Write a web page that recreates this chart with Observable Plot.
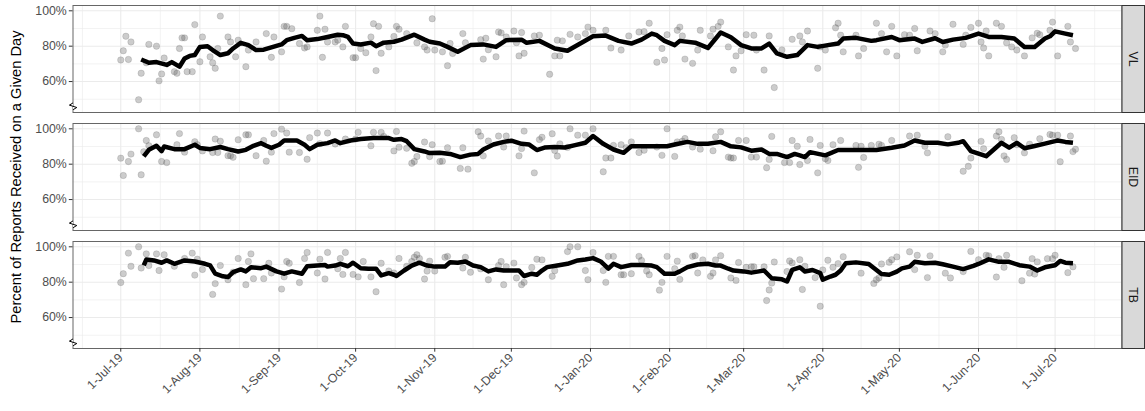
<!DOCTYPE html>
<html><head><meta charset="utf-8">
<script src="https://cdn.jsdelivr.net/npm/d3@7"></script>
<script src="https://cdn.jsdelivr.net/npm/@observablehq/plot@0.6"></script>
<style>body{margin:0;background:#fff}</style>
</head><body><div id="chart"></div>
<script>
const panels = ["VL", "EID", "TB"];
const startDate = "2019-07-01";
const xTickLabels = ["1-Jul-19","1-Aug-19","1-Sep-19","1-Oct-19","1-Nov-19","1-Dec-19","1-Jan-20","1-Feb-20","1-Mar-20","1-Apr-20","1-May-20","1-Jun-20","1-Jul-20"];
const yTicks = [60, 80, 100];
const yMinor = [50, 70, 90];
const yLabel = "Percent of Reports Received on a Given Day";

// rolling line: [day offset from 1-Jul-19, percent]
const vlLine = [[8,72.5],[11,70.6],[14,71],[18,69.4],[20,71],[23,68.4],[25,73],[27,74.5],[29,75],[31,79.6],[34,80],[36,77.8],[39,75],[42,76],[44,78.7],[47,81.9],[50,80.6],[53,77.8],[56,78],[59,79.3],[63,81],[65,83.4],[68,84.7],[71,85.8],[73,83.4],[77,84],[81,85.2],[85,86.5],[87,86.2],[89,85.2],[91,81.5],[94,81],[98,82],[100,80],[103,82],[107,82.5],[110,83.7],[115,86.5],[119,83.7],[121,82.5],[125,81.5],[128,79.6],[132,76.8],[137,80.6],[142,81],[147,79.6],[151,83.4],[157,83.7],[159,81.9],[164,83],[170,78.7],[175,77.4],[180,81.5],[185,85.6],[190,86],[195,83],[200,81.5],[204,83.7],[208,87.1],[210,86.2],[213,83],[217,80.6],[219,83],[225,82],[230,79],[235,87.7],[239,85],[243,80.6],[247,78.7],[251,78.7],[254,81.5],[257,75.9],[261,74],[265,75],[269,80.6],[273,79.6],[277,80.6],[281,81.5],[283,84.3],[288,84.7],[294,83],[296,83.4],[302,85.2],[305,83.4],[311,84.3],[314,82.4],[319,84.5],[322,82.4],[326,83.7],[331,84.7],[336,87.1],[340,85.2],[345,85.2],[350,84.3],[354,79.6],[358,79.6],[362,84.3],[364,85.6],[366,88.4],[370,87.1],[373,86.2]];
const eidLine = [[9,84.4],[11,88.1],[14,90.4],[16,87.4],[17,90],[21,88.5],[25,88.5],[29,91],[31,89.2],[35,88.5],[39,89.7],[42,88.5],[46,87.2],[49,88.1],[52,90.4],[55,91.9],[57,90.4],[59,89.2],[62,91],[64,93.4],[69,93.4],[72,91],[74,88.5],[77,91],[81,91.9],[84,93.4],[86,91.9],[90,93.4],[94,94.2],[99,94.8],[105,94.8],[107,93.8],[110,94.2],[112,93],[115,88.5],[119,87.2],[121,86.3],[125,86.4],[129,85.8],[133,84],[137,85.4],[140,85.8],[142,88.3],[146,91.1],[150,92.6],[153,93.3],[157,91.5],[160,91.1],[163,88],[166,89.4],[170,89.7],[174,89.4],[178,90.8],[182,92.1],[185,95.9],[189,91.5],[193,88.3],[197,86.4],[200,90.1],[205,90.1],[210,90.1],[214,90.1],[217,91.1],[222,92.6],[226,91.5],[230,91.5],[235,92.6],[239,90.1],[243,89.5],[247,87.6],[251,88.3],[254,85.8],[257,85.8],[261,84],[264,85.8],[266,85],[268,84],[270,86.8],[276,85],[281,88],[286,88],[291,88],[296,88],[302,89.3],[307,90.6],[311,93.4],[315,92.1],[320,92.1],[324,91.2],[328,92.1],[330,93],[333,87.4],[336,85.9],[339,84.5],[342,88.3],[345,92.1],[348,89.3],[351,92.1],[354,89],[358,90.3],[362,91.6],[366,93],[367,93.4],[370,92.6],[373,92.1]];
const tbLine = [[9,89.5],[10,92.8],[13,92.3],[16,91],[18,92.3],[21,90.4],[25,92.3],[29,91.7],[33,90.4],[35,89.5],[37,84.8],[40,83.3],[42,82.9],[44,85.7],[47,87.2],[49,86.1],[51,88.5],[55,87.9],[57,88.8],[61,86.1],[64,84.8],[67,86.1],[71,84.8],[73,89],[77,89.4],[80,89.7],[81,88.8],[84,89.4],[86,90.4],[89,89],[91,91],[94,87.9],[97,87.6],[100,87.6],[102,83.8],[105,85.1],[107,84.2],[108,83.5],[111,86.6],[114,89.4],[117,91],[120,89.4],[123,88.8],[127,88.8],[129,91.3],[132,91],[135,91.7],[138,89.4],[141,88.5],[144,86.1],[147,87.2],[150,86.6],[154,86.6],[156,86.6],[158,83.5],[161,84.8],[163,84.2],[165,86.6],[167,88.5],[171,89.4],[175,90.4],[179,92.3],[182,92.8],[185,93.6],[188,91.7],[191,87.6],[193,90.4],[196,88.5],[200,89.7],[204,89.7],[208,89.4],[210,88.5],[213,84.8],[217,84.8],[219,86.1],[222,88.5],[226,90],[230,90.4],[233,89.4],[235,89.4],[238,87.6],[240,86.6],[244,86.1],[247,85.4],[250,86.1],[252,86.6],[255,82.2],[259,81.6],[261,80.4],[263,86.9],[266,88.4],[268,86],[271,86.9],[274,85.1],[275,81.4],[278,83.2],[280,84.2],[282,86.6],[284,90.7],[288,91.2],[293,90.3],[296,86.9],[298,84.6],[301,84.2],[304,86],[306,87.8],[309,88.8],[311,91.5],[315,90.7],[319,91],[322,90.1],[326,88.8],[330,87.4],[334,89.2],[336,90.3],[340,92.9],[344,91.5],[348,91.5],[352,89.6],[356,88.8],[359,86.6],[362,88.4],[366,89.6],[368,92],[370,91],[373,90.7]];

// daily points: [day offset from 1-Jul-19, percent]
const vlPoints = [[0,72.2],[1,77.4],[2,85.6],[3,72.5],[4,82.4],[7,49.7],[8,64.7],[10,70.6],[11,81],[14,80],[15,60.4],[16,64.3],[17,73.3],[21,65.6],[22,64.7],[23,78.7],[24,84.7],[25,84.7],[26,65.6],[28,65.6],[29,92.2],[31,71.2],[32,85.2],[35,74],[36,70.6],[37,67.5],[38,78.7],[39,97],[42,85.2],[43,82.4],[45,74],[46,83.4],[49,68.4],[50,77.8],[53,82.4],[57,87.1],[59,73.7],[60,85.2],[63,76.8],[64,91.2],[65,91.2],[67,89.9],[70,81.5],[72,79],[73,79.6],[77,89],[78,97],[79,73.7],[80,89.6],[81,82.4],[84,82.4],[85,83.4],[87,79.6],[88,91.2],[91,73.5],[92,73.5],[94,78.7],[96,76.3],[98,85.2],[99,92.7],[100,66.2],[101,91.2],[102,76],[105,79.6],[107,85.5],[108,91.2],[109,89.6],[112,87.1],[116,81.9],[119,79.6],[120,77.8],[122,95.5],[123,77.8],[126,76.8],[128,69],[129,81.5],[130,75.9],[134,87.1],[135,81.9],[141,83.7],[142,72.7],[143,84.5],[144,78],[147,74],[148,88],[149,87.5],[151,85.2],[154,88.6],[155,82],[156,74.5],[157,87.7],[158,76],[162,85.8],[164,86.2],[168,64.1],[170,74.5],[171,83.4],[172,74.5],[173,83],[176,86.7],[179,85.2],[182,87.1],[183,90.8],[185,89],[190,89],[192,79],[196,77.8],[199,85.8],[203,88],[205,88.2],[207,93],[210,70.9],[212,78.7],[213,72.2],[214,86.5],[218,89],[219,90.8],[220,85.8],[221,72.7],[224,70.3],[226,77.8],[227,89],[231,85.8],[232,89.6],[234,91.2],[235,93.6],[238,79.6],[240,66.5],[241,74.5],[243,77.4],[245,86.5],[248,86.2],[249,77.8],[252,66.5],[254,85.8],[256,56.6],[259,77.9],[263,83.9],[266,85.8],[267,82.4],[269,88.6],[273,67.5],[274,79.6],[276,77.8],[280,90.4],[281,93],[282,86.2],[283,76.8],[288,86.2],[289,74.5],[291,78.7],[296,93],[298,87.1],[300,76.8],[302,91.2],[304,74.5],[307,86.5],[309,86.2],[311,90],[312,77.4],[317,88.6],[319,87.1],[322,76.8],[323,80.6],[326,92.4],[330,81],[331,86.2],[333,90.6],[336,93],[337,82.4],[338,79],[339,88.6],[340,74.5],[343,93],[345,91.2],[347,81.9],[349,79.6],[351,77.8],[354,74.5],[357,84.7],[359,87.3],[360,86.5],[364,89],[365,93.6],[367,74.5],[371,91.2],[372,82.4],[374,78.7]];
const eidPoints = [[0,83.4],[1,73.6],[3,81.5],[4,85.7],[7,100],[8,74],[9,87],[10,93.4],[11,90.4],[14,96.6],[16,81.5],[18,80.9],[22,91],[23,97.3],[25,86.8],[29,92.7],[30,91],[32,87.5],[36,86.6],[37,94.2],[38,86.6],[39,93],[42,84.8],[43,84.8],[44,83.9],[46,93.8],[49,96.6],[50,96.6],[53,84.8],[56,93.4],[57,81.7],[59,86.8],[60,97.3],[63,99.8],[65,97.6],[66,86.8],[70,86.6],[73,82.8],[74,95],[77,97.6],[78,91.6],[81,97.6],[84,91.4],[88,94.2],[92,94.2],[93,98],[98,90.4],[99,98],[102,98],[103,95.7],[107,87.5],[108,98.5],[109,89.6],[112,89],[114,80.5],[115,81.5],[116,84.3],[119,92.5],[121,84.3],[122,91],[125,81.5],[126,81.7],[128,89.3],[133,77.6],[134,89.3],[136,77.2],[140,98.3],[141,95.9],[142,84.7],[144,93.1],[148,95.9],[150,89.7],[151,95.9],[156,84.7],[157,88.8],[158,98.7],[162,75.1],[164,93.9],[165,95.2],[169,97.2],[170,87.8],[171,84.6],[172,91.5],[175,89.5],[176,100],[179,96.4],[182,96.4],[185,100],[189,75.7],[190,83.5],[192,83.5],[193,90.6],[196,91],[198,89.3],[200,92.6],[203,86.6],[205,87.9],[210,89.7],[212,85],[214,100],[217,84.4],[218,92.6],[220,93],[221,94.5],[224,89.7],[227,88.5],[232,87.6],[233,95.5],[235,98.3],[238,84],[239,83.5],[240,83.5],[242,93.4],[245,93.4],[247,84],[249,84],[253,78],[254,82.7],[255,95.7],[260,80.9],[262,80.9],[263,93.4],[265,90.1],[266,79.8],[269,82.1],[270,94],[273,75.1],[274,90.6],[276,83.1],[277,82.1],[279,91],[282,93.4],[288,90.6],[289,78.2],[290,90.1],[291,83.8],[294,90.6],[297,91.3],[298,90.6],[302,93.4],[309,95.9],[312,96.4],[315,90.1],[316,86.4],[324,95.5],[330,76],[332,78.8],[333,83.5],[337,92.9],[338,88.8],[343,95.9],[344,98.3],[345,94],[346,84.7],[347,82.7],[350,95],[351,91],[354,86.4],[356,91.3],[360,94.4],[364,96.8],[365,96.4],[367,96.4],[368,81.4],[372,95.9],[373,87.1],[374,88.4]];
const tbPoints = [[0,79.8],[1,84.8],[3,96.4],[4,89],[7,100],[8,88],[10,96],[11,89.4],[14,96],[15,86.6],[17,95.5],[21,89],[25,93.4],[28,96.4],[29,84],[30,93],[32,87.2],[36,73.1],[37,79.2],[39,89.4],[42,81.4],[44,85.7],[46,93.4],[49,78.6],[50,91.7],[51,96],[52,82],[56,82],[58,90.7],[59,85.2],[63,76.1],[64,83],[65,91.7],[66,90.7],[70,79.8],[72,93.4],[73,96.8],[77,85.2],[78,93],[80,81.8],[81,96.8],[85,87.6],[86,93.4],[87,84.4],[88,96.8],[91,84.4],[93,83],[95,91.7],[98,83],[100,74.6],[102,90.7],[105,86.3],[107,85.2],[109,93.4],[112,89],[114,91.7],[115,94.1],[116,95.5],[117,93.4],[119,81.8],[120,86.3],[121,91.9],[123,86.3],[127,94.1],[128,94.6],[134,88],[135,94.1],[137,85.6],[141,87.5],[144,81.4],[148,89.4],[149,91.7],[150,78.6],[151,88.8],[154,90.8],[155,82.4],[157,78.6],[158,79.9],[161,88.3],[163,93],[165,92.6],[169,83.3],[170,86.5],[175,97.3],[176,100],[179,100],[182,86.6],[183,81.4],[185,96.8],[189,86.6],[190,79.9],[191,94.6],[193,94.6],[196,84.2],[197,84.2],[200,84.8],[203,94.6],[204,92.3],[206,86.3],[207,84.2],[211,75.5],[212,79.9],[214,94.6],[217,87.6],[218,91.9],[219,81.6],[224,94.6],[225,95],[226,85.2],[228,92.6],[231,83.3],[232,85.2],[233,92.6],[235,95],[239,82.4],[241,81],[242,91.1],[245,88.4],[247,88.7],[248,88.7],[252,88.7],[253,69.6],[254,75.6],[255,79.5],[256,91.4],[261,86],[262,92],[263,90.9],[266,92.7],[267,75.9],[268,89],[272,82.6],[274,66.4],[275,86.9],[277,92.4],[279,88.4],[281,90.5],[283,94.4],[290,85.1],[295,79.3],[296,81.4],[297,82.4],[298,90.3],[301,91.2],[302,92.7],[304,94.3],[309,97.2],[311,87.1],[312,95.2],[316,82.6],[317,94.9],[323,85.1],[325,82.4],[330,86],[333,97.4],[336,92.7],[339,95.2],[340,94.9],[343,82.9],[344,93.3],[346,88.4],[347,95.2],[353,80.8],[356,85.1],[357,93.3],[358,84.6],[359,91.5],[363,93.3],[365,93.3],[366,95.2],[371,85.4],[373,88.7]];

const start = new Date(startDate + "T00:00:00Z");
const toRows = (panel, arr) => arr.map(([d, v]) => ({panel, date: d3.utcDay.offset(start, d), value: v}));
const points = [...toRows("VL", vlPoints), ...toRows("EID", eidPoints), ...toRows("TB", tbPoints)];
const lines = [...toRows("VL", vlLine), ...toRows("EID", eidLine), ...toRows("TB", tbLine)];

const parseTick = d3.utcParse("%-d-%b-%y");
const monthTicks = xTickLabels.map(parseTick);
const extended = [d3.utcMonth.offset(monthTicks[0], -1), ...monthTicks, d3.utcMonth.offset(monthTicks[monthTicks.length - 1], 1)];
const minorTicks = d3.pairs(extended, (a, b) => new Date((+a + +b) / 2));
const xDomain = [new Date("2019-06-12T07:00:00Z"), new Date("2020-07-27T05:00:00Z")];

const zigzag = {draw(ctx) { ctx.moveTo(0, -3.4); ctx.lineTo(-3.6, -1.2); ctx.lineTo(3.8, 1.2); ctx.lineTo(0, 3.4); }};

const chart = Plot.plot({
  width: 1145, height: 411,
  marginLeft: 72.5, marginRight: 23.5, marginTop: 5, marginBottom: 62,
  style: {fontFamily: "'Liberation Sans', Arial, sans-serif", fontSize: "12.3px", color: "#4d4d4d", background: "#fff"},
  x: {type: "utc", domain: xDomain},
  y: {domain: [42.5, 103]},
  fy: {domain: panels, paddingInner: 0.09, paddingOuter: 0, axis: null},
  marks: [
    Plot.ruleY(yMinor, {stroke: "#ebebeb", strokeWidth: 0.6}),
    Plot.ruleX(minorTicks, {stroke: "#ebebeb", strokeWidth: 0.6}),
    Plot.ruleY(yTicks, {stroke: "#ebebeb", strokeWidth: 1.1}),
    Plot.ruleX(monthTicks, {stroke: "#ebebeb", strokeWidth: 1.1}),
    Plot.dot(points, {x: "date", y: "value", fy: "panel", r: 3.2, fill: "#555", fillOpacity: 0.3, stroke: "#555", strokeOpacity: 0.3, strokeWidth: 0.6}),
    Plot.line(lines, {x: "date", y: "value", fy: "panel", stroke: "black", strokeWidth: 4.5, strokeLinejoin: "round", strokeLinecap: "butt"}),
    Plot.frame({stroke: "#666", strokeWidth: 1}),
    Plot.axisY(yTicks, {tickFormat: d => d + "%", tickSize: 3.7, tickPadding: 2.5, label: null, stroke: "#333", fill: "#4d4d4d", fontSize: 12.3}),
    Plot.axisX(monthTicks, {tickFormat: d3.utcFormat("%-d-%b-%y"), tickRotate: -45, textAnchor: "end", tickSize: 3.7, tickPadding: 3.5, label: null, stroke: "#333", fill: "#4d4d4d", fontSize: 12.3}),
    Plot.dot([46], {x: () => xDomain[0], y: d => d, symbol: zigzag, stroke: "black", fill: "white", strokeWidth: 1})
  ]
});
document.getElementById("chart").append(chart);

// facet strips and shared y-axis title, placed from the rendered facet frames
const svg = d3.select(chart);
const svgBox = chart.getBoundingClientRect();
const frameEls = new Set();
chart.querySelectorAll('[aria-label="frame"]').forEach(el => {
  if (el.tagName.toLowerCase() === "rect") frameEls.add(el);
  el.querySelectorAll("rect").forEach(r => frameEls.add(r));
});
const frameBoxes = Array.from(frameEls).map(el => el.getBoundingClientRect())
  .filter(b => b.height > 20)
  .sort((a, b) => a.top - b.top);
const stripW = 1145 - (frameBoxes[0].right - svgBox.left) - 0.5;
frameBoxes.forEach((b, i) => {
  const x0 = b.right - svgBox.left, y0 = b.top - svgBox.top;
  const g = svg.append("g");
  g.append("rect").attr("x", x0).attr("y", y0).attr("width", stripW).attr("height", b.height)
    .attr("fill", "#d9d9d9").attr("stroke", "#333").attr("stroke-width", 1);
  g.append("text").attr("transform", `translate(${x0 + stripW / 2},${y0 + b.height / 2}) rotate(90)`)
    .attr("text-anchor", "middle").attr("dy", "0.35em").attr("fill", "#1a1a1a")
    .style("font-size", "12.3px").text(panels[i]);
});
const panelTop = frameBoxes[0].top - svgBox.top;
const panelBottom = frameBoxes[frameBoxes.length - 1].bottom - svgBox.top;
svg.append("text").attr("transform", `translate(16,${(panelTop + panelBottom) / 2}) rotate(-90)`)
  .attr("text-anchor", "middle").attr("dy", "0.35em").attr("fill", "#000")
  .style("font-size", "14.7px").text(yLabel);
</script>
</body></html>
